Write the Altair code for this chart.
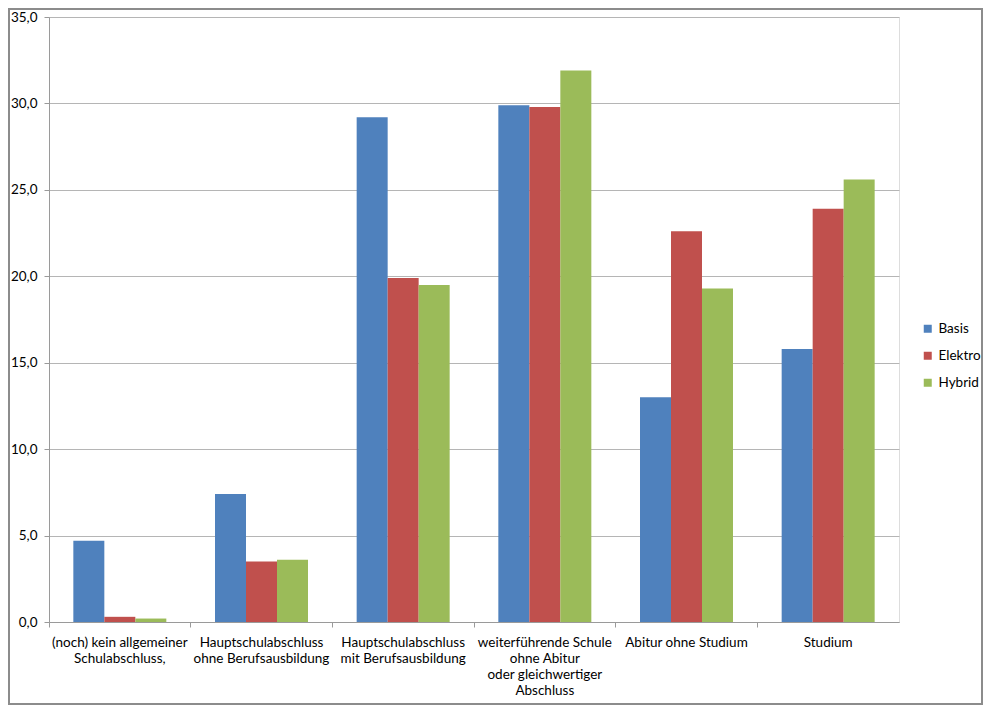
import altair as alt
import pandas as pd

categories = [
    "(noch) kein allgemeiner\nSchulabschluss,",
    "Hauptschulabschluss\nohne Berufsausbildung",
    "Hauptschulabschluss\nmit Berufsausbildung",
    "weiterführende Schule\nohne Abitur\noder gleichwertiger\nAbschluss",
    "Abitur ohne Studium",
    "Studium",
]
series = ["Basis", "Elektro", "Hybrid"]
basis = [4.7, 7.4, 29.2, 29.9, 13.0, 15.8]
elektro = [0.3, 3.5, 19.9, 29.8, 22.6, 23.9]
hybrid = [0.2, 3.6, 19.5, 31.9, 19.3, 25.6]
colors = ["#4F81BD", "#C0504D", "#9BBB59"]

rows = []
for name, vals in zip(series, [basis, elektro, hybrid]):
    for c, v in zip(categories, vals):
        rows.append({"Kategorie": c, "Serie": name, "Wert": v})
df = pd.DataFrame(rows)

FONT = "Lato"
FS = 13.5
W, H = 850, 605

bars = alt.Chart(df).mark_bar().encode(
    x=alt.X("Kategorie:N", sort=categories, title=None,
            scale=alt.Scale(paddingInner=0, paddingOuter=0),
            axis=alt.Axis(labelAngle=0, labelExpr="split(datum.value, '\\n')",
                          bandPosition=0, tickColor="#9a9a9a", tickSize=5,
                          domainColor="#9a9a9a", labelFont=FONT, labelFontSize=FS,
                          labelColor="#000000", labelPadding=8, labelLineHeight=16,
                          labelBaseline="top", grid=False, labelLimit=200)),
    xOffset=alt.XOffset("Serie:N", sort=series,
                        scale=alt.Scale(paddingInner=0, paddingOuter=0.785)),
    y=alt.Y("Wert:Q", title=None,
            scale=alt.Scale(domain=[0, 35], nice=False),
            axis=alt.Axis(values=[0, 5, 10, 15, 20, 25, 30, 35],
                          labelExpr="replace(format(datum.value, '.1f'), '.', ',')",
                          gridColor="#b5b5b5", domainColor="#9a9a9a",
                          tickColor="#9a9a9a", tickSize=5, labelPadding=7,
                          labelFont=FONT, labelFontSize=FS, labelColor="#000000")),
    color=alt.Color("Serie:N", sort=series,
                    scale=alt.Scale(domain=series, range=colors),
                    legend=alt.Legend(title=None, orient="none", legendX=872, legendY=305,
                                      symbolType="square", symbolSize=64,
                                      symbolStrokeWidth=0, labelFont=FONT,
                                      labelFontSize=FS, labelColor="#000000",
                                      rowPadding=12, labelOffset=4)),
)

frame = alt.Chart(pd.DataFrame({"f": [0]})).mark_rect(
    fill=None, stroke="#8c8c8c", strokeWidth=2
).encode(
    x=alt.value(-40), x2=alt.value(W + 83),
    y=alt.value(-8), y2=alt.value(H + 82),
)

chart = alt.layer(bars, frame).properties(
    width=W, height=H,
    autosize=alt.AutoSizeParams(type="none"),
    padding={"left": 41, "top": 9, "right": 84, "bottom": 83},
).configure_view(stroke=None).configure(background="#ffffff")

chart.save("out.html", embed_options={"renderer": "svg", "actions": False})
